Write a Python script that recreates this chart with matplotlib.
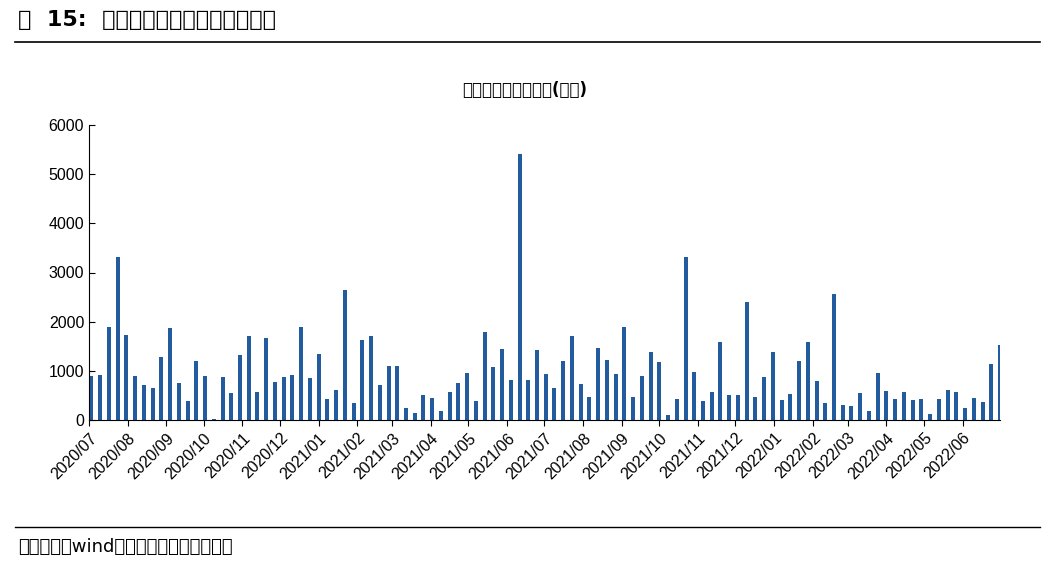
import numpy as np
import pandas as pd
import matplotlib.pyplot as plt
import matplotlib.dates as mdates
from matplotlib.lines import Line2D

plt.rcParams['font.family'] = ['Liberation Sans', 'Noto Sans CJK SC', 'Noto Sans CJK JP',
                               'Noto Sans CJK TC', 'DejaVu Sans']

# weekly unlocked market value (100m yuan)
values = [900, 920, 1900, 3320, 1730, 900, 720, 660, 1290, 1880, 750, 380, 1200, 900, 30,
          870, 540, 1330, 1700, 570, 1660, 780, 870, 920, 1900, 860, 1350, 420, 620, 2640,
          350, 1620, 1700, 720, 1100, 1100, 240, 140, 510, 450, 190, 560, 750, 950, 380,
          1780, 1080, 1450, 820, 5420, 820, 1420, 940, 650, 1200, 1700, 730, 470, 1470, 1220,
          940, 1900, 470, 890, 1380, 1180, 100, 420, 3320, 970, 380, 560, 1580, 500, 500,
          2390, 470, 870, 1380, 400, 520, 1210, 1580, 800, 350, 2570, 300, 280, 540, 190,
          960, 600, 420, 560, 410, 430, 120, 420, 610, 560, 240, 440, 370, 1140, 1520]
dates = pd.date_range('2020-07-03', periods=len(values), freq='7D')
month_ticks = pd.date_range('2020-07-01', '2022-06-01', freq='MS')

fig = plt.figure(figsize=(10.52, 5.63), dpi=100)
ax = fig.add_axes([89/1052, 1-420/563, (1000-89)/1052, (420-125)/563])
ax.bar(dates, values, width=3.2, color='#225c9f')

ax.set_ylim(0, 6000)
ax.set_yticks(range(0, 6001, 1000))
ax.set_xlim(pd.Timestamp('2020-07-01'), pd.Timestamp('2022-07-01'))
ax.set_xticks(month_ticks)
ax.xaxis.set_major_formatter(mdates.DateFormatter('%Y/%m'))
plt.setp(ax.get_xticklabels(), rotation=45, ha='right', rotation_mode='anchor')
ax.tick_params(labelsize=11.5, direction='in', length=4)
ax.tick_params(axis='x', direction='out', length=4)
for s in ['top', 'right']:
    ax.spines[s].set_visible(False)

cjk = 'Noto Sans CJK SC'
fig.text(525/1052, 1-90/563, '限售股解禁市值合计(亿元)', ha='center', va='center',
         fontsize=12, fontweight='bold', family=cjk)
fig.text(18/1052, 1-20/563, '图  15:  限售股解禁市值合计（周度）', ha='left', va='center',
         fontsize=16, fontweight='bold', family=cjk)
fig.text(18/1052, 1-547/563, '数据来源：wind，广发证券发展研究中心', ha='left', va='center',
         fontsize=13, family=cjk)
fig.add_artist(Line2D([15/1052, 1040/1052], [1-42/563]*2, color='black', lw=1.2))
fig.add_artist(Line2D([15/1052, 1040/1052], [1-527/563]*2, color='black', lw=1.0))

fig.savefig('out.png', dpi=100)
